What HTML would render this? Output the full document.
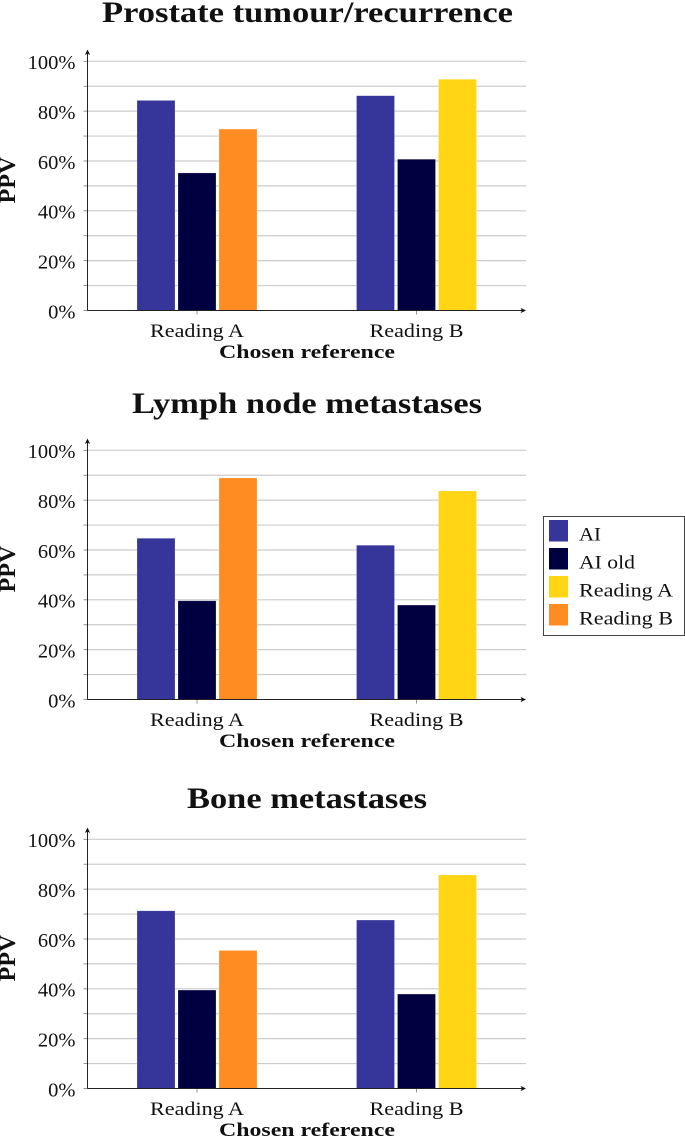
<!DOCTYPE html>
<html lang="en">
<head>
<meta charset="utf-8">
<title>PPV by chosen reference</title>
<style>
html,body{margin:0;padding:0;background:#fff;width:685px;height:1136px;overflow:hidden}
svg{display:block}
text{font-family:"Liberation Serif","DejaVu Serif",serif;fill:#111}
.title{font-size:30px;font-weight:bold}
.axis-title{font-size:18.5px;font-weight:bold}
.ppv{font-size:23px;font-weight:bold}
.tick{font-size:20.5px;text-anchor:end}
.cat{font-size:18.5px;text-anchor:middle}
.leg{font-size:18.5px}
</style>
</head>
<body>
<svg id="figure" xmlns="http://www.w3.org/2000/svg" width="685" height="1136" viewBox="0 0 685 1136">
  <text class="title" x="102" y="22" textLength="411" lengthAdjust="spacingAndGlyphs">Prostate tumour/recurrence</text>
  <text class="title" x="132" y="413" textLength="350" lengthAdjust="spacingAndGlyphs">Lymph node metastases</text>
  <text class="title" x="187" y="808" textLength="240" lengthAdjust="spacingAndGlyphs">Bone metastases</text>

  <g id="chart-prostate"></g>
  <g id="chart-lymph"></g>
  <g id="chart-bone"></g>

  <text class="axis-title" x="219" y="358" textLength="176" lengthAdjust="spacingAndGlyphs">Chosen reference</text>
  <text class="axis-title" x="219" y="747" textLength="176" lengthAdjust="spacingAndGlyphs">Chosen reference</text>
  <text class="axis-title" x="219" y="1136" textLength="176" lengthAdjust="spacingAndGlyphs">Chosen reference</text>
  <text class="ppv" transform="translate(15,203.5) rotate(-90)" textLength="47" lengthAdjust="spacingAndGlyphs">PPV</text>
  <text class="ppv" transform="translate(15,592.5) rotate(-90)" textLength="47" lengthAdjust="spacingAndGlyphs">PPV</text>
  <text class="ppv" transform="translate(15,981.5) rotate(-90)" textLength="47" lengthAdjust="spacingAndGlyphs">PPV</text>

  <g>
    <rect x="543.5" y="516.5" width="141" height="119" fill="#fff" stroke="#444" stroke-width="1"/>
    <g>
      <rect x="549" y="520" width="19" height="21.5" fill="#35359a"/>
      <text class="leg" x="579" y="540.5" textLength="22" lengthAdjust="spacingAndGlyphs">AI</text>
    </g>
    <g>
      <rect x="549" y="548" width="19" height="21.5" fill="#000040"/>
      <text class="leg" x="579" y="568.5" textLength="56" lengthAdjust="spacingAndGlyphs">AI old</text>
    </g>
    <g>
      <rect x="549" y="576" width="19" height="21.5" fill="#ffd514"/>
      <text class="leg" x="579" y="596.5" textLength="94" lengthAdjust="spacingAndGlyphs">Reading A</text>
    </g>
    <g>
      <rect x="549" y="604" width="19" height="21.5" fill="#ff8c22"/>
      <text class="leg" x="579" y="624.5" textLength="94" lengthAdjust="spacingAndGlyphs">Reading B</text>
    </g>
  </g>
</svg>
<script>
// Chart data
var categories = ["Reading A", "Reading B"];
var yTicks = [0, 10, 20, 30, 40, 50, 60, 70, 80, 90, 100];
var yTickLabels = ["0%", "", "20%", "", "40%", "", "60%", "", "80%", "", "100%"];

var prostateAI = [84.3, 86.2];
var prostateAIOld = [55.2, 60.7];
var prostateReadingA = [null, 92.8];
var prostateReadingB = [72.8, null];

var lymphAI = [64.7, 61.9];
var lymphAIOld = [39.6, 37.9];
var lymphReadingA = [null, 83.7];
var lymphReadingB = [88.9, null];

var boneAI = [71.3, 67.6];
var boneAIOld = [39.5, 37.9];
var boneReadingA = [null, 85.7];
var boneReadingB = [55.4, null];

var NS = "http://www.w3.org/2000/svg";

function make(parent, tag, attrs, text) {
  var el = document.createElementNS(NS, tag);
  for (var k in attrs) el.setAttribute(k, attrs[k]);
  if (text !== undefined) el.textContent = text;
  parent.appendChild(el);
  return el;
}

// Axis geometry
var axisLeft = 87.5, axisRight = 526, plotHeight = 249.2;
var firstGroupCentre = 197, groupStep = 219.5, barWidth = 38, barStep = 41;

function xBand(i) { return firstGroupCentre + i * groupStep; }
function xBar(i, slot) { return xBand(i) + (slot - 1) * barStep - barWidth / 2; }
function yScale(v, baseline) { return baseline - v / 100 * plotHeight; }

function drawBarSeries(g, values, slot, color, baseline, name) {
  values.forEach(function (v, i) {
    if (v === null) return;
    var y = yScale(v, baseline);
    var bar = make(g, "rect", {
      x: xBar(i, slot), y: y, width: barWidth, height: baseline - y,
      fill: color, stroke: "#ffffff", "stroke-opacity": 0.35, "stroke-width": 0.6
    });
    
    
  });
}

function drawChart(id, baseline, ai, aiOld, readingA, readingB) {
  var g = document.getElementById(id);

  yTicks.forEach(function (t, i) {
    var y = yScale(t, baseline);
    if (t > 0) {
      var grid = make(g, "line", {
        x1: axisLeft, x2: axisRight, y1: y, y2: y, stroke: "#cccccc", "stroke-width": 1.2
      });
      
      
    }
    var mark = make(g, "line", {
      x1: axisLeft - 4, x2: axisLeft, y1: y, y2: y, stroke: "#777777", "stroke-width": 0.8
    });
    
    
    if (yTickLabels[i]) {
      var label = make(g, "text", { "class": "tick", x: 75.5, y: y + 7.8 }, yTickLabels[i]);
      
      
    }
  });

  drawBarSeries(g, ai, 0, "#35359a", baseline, "bar-ai");
  drawBarSeries(g, aiOld, 1, "#000040", baseline, "bar-ai-old");
  drawBarSeries(g, readingA, 2, "#ffd514", baseline, "bar-reading-a");
  drawBarSeries(g, readingB, 2, "#ff8c22", baseline, "bar-reading-b");

  categories.forEach(function (c, i) {
    var x = xBand(i);
    var tick = make(g, "line", {
      x1: x, x2: x, y1: baseline, y2: baseline + 4, stroke: "#777777", "stroke-width": 0.8
    });
    
    
    var cat = make(g, "text", {
      "class": "cat", x: x, y: baseline + 26.5, textLength: 94, lengthAdjust: "spacingAndGlyphs"
    }, c);
    
    
  });

  var yAxis = make(g, "line", {
    x1: axisLeft, x2: axisLeft, y1: baseline, y2: baseline - 258, stroke: "#222222", "stroke-width": 1
  });
  
  
  var yArrow = make(g, "path", {
    d: "M" + axisLeft + " " + (baseline - 261) + " l2.6 5.5 l-2.6 -1.4 l-2.6 1.4 z", fill: "#111111"
  });
  
  
  var xAxis = make(g, "line", {
    x1: axisLeft, x2: axisRight - 3, y1: baseline, y2: baseline, stroke: "#222222", "stroke-width": 1
  });
  
  
  var xArrow = make(g, "path", {
    d: "M" + axisRight + " " + baseline + " l-5.5 -2.6 l1.4 2.6 l-1.4 2.6 z", fill: "#111111"
  });
  
  
}

drawChart("chart-prostate", 310.5, prostateAI, prostateAIOld, prostateReadingA, prostateReadingB);
drawChart("chart-lymph", 699.5, lymphAI, lymphAIOld, lymphReadingA, lymphReadingB);
drawChart("chart-bone", 1088.5, boneAI, boneAIOld, boneReadingA, boneReadingB);
</script>
</body>
</html>
